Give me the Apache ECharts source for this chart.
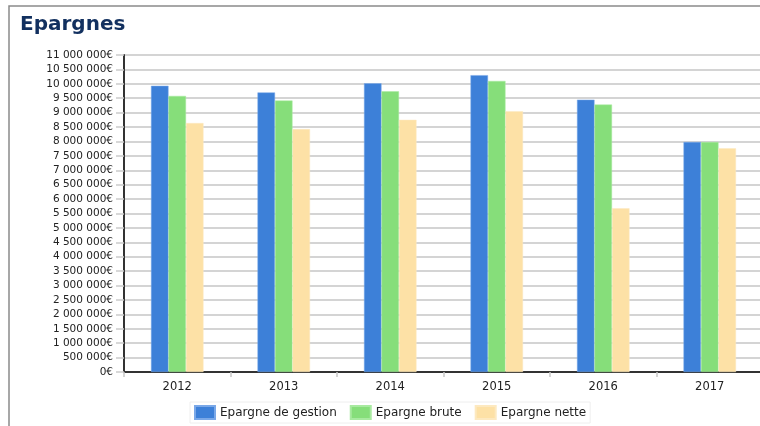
<!DOCTYPE html>
<html>
<head>
<meta charset="utf-8">
<script src="https://cdn.jsdelivr.net/npm/echarts@6/dist/echarts.min.js"></script>
<style>
html,body{margin:0;padding:0;background:#fff;}
#chart{width:760px;height:426px;}
</style>
</head>
<body>
<div id="chart"></div>
<script>
var categories = ['2012', '2013', '2014', '2015', '2016', '2017'];
var seriesNames = ['Epargne de gestion', 'Epargne brute', 'Epargne nette'];
var epargneGestion = [9930000, 9700000, 10020000, 10300000, 9450000, 7980000];
var epargneBrute = [9580000, 9420000, 9740000, 10100000, 9280000, 7980000];
var epargneNette = [8640000, 8430000, 8750000, 9050000, 5680000, 7760000];
var yMin = 0, yMax = 11000000, yStep = 500000;

function fmt(v) {
  var s = String(Math.round(v));
  return s.replace(/\B(?=(\d{3})+(?!\d))/g, ' ') + '€';
}

var chart = echarts.init(document.getElementById('chart'), null, {renderer: 'canvas'});
var font = 'DejaVu Sans';
chart.setOption({
  animation: false,
  backgroundColor: '#fff',
  textStyle: {fontFamily: font},
  graphic: [{
    type: 'polyline',
    shape: {points: [[9, 430], [9, 6], [770, 6]]},
    style: {stroke: '#8a8a8a', lineWidth: 1.5, fill: null},
    silent: true
  }],
  title: {
    text: 'Epargnes',
    left: 20,
    top: 15,
    padding: 0,
    textStyle: {fontFamily: font, fontSize: 20, fontWeight: 'bold', color: '#12305f'}
  },
  legend: {
    data: seriesNames,
    left: 190,
    top: 402,
    padding: [3, 4],
    itemWidth: 20,
    itemHeight: 13,
    itemGap: 13,
    borderColor: '#eeeeee',
    borderWidth: 1,
    icon: 'rect',
    textStyle: {fontFamily: font, fontSize: 12, color: '#222'}
  },
  grid: {left: 124, right: -3, top: 55, bottom: 54, outerBoundsMode: 'none', containLabel: false},
  xAxis: {
    type: 'category',
    data: categories,
    axisLine: {lineStyle: {color: '#333', width: 2}},
    axisTick: {show: true, length: 5, lineStyle: {color: '#c8c8c8', width: 1.5}},
    axisLabel: {margin: 9, fontFamily: font, fontSize: 11.5, color: '#222'}
  },
  yAxis: {
    type: 'value',
    min: yMin,
    max: yMax,
    interval: yStep,
    axisLine: {show: true, lineStyle: {color: '#333', width: 2}},
    axisTick: {show: true, length: 8, lineStyle: {color: '#cccccc', width: 1.5}},
    splitLine: {show: true, lineStyle: {color: '#d4d4d4', width: 1.8}},
    axisLabel: {margin: 11, fontFamily: font, fontSize: 10.5, color: '#222', formatter: fmt}
  },
  series: [
    {name: seriesNames[0], type: 'bar', data: epargneGestion, barWidth: 17.5, barGap: '0%',
     itemStyle: {color: '#3d80d8', borderColor: '#7aa8e8', borderWidth: 0.5}},
    {name: seriesNames[1], type: 'bar', data: epargneBrute, barWidth: 17.5, barGap: '0%',
     itemStyle: {color: '#86de7a', borderColor: '#a8eaa0', borderWidth: 0.5}},
    {name: seriesNames[2], type: 'bar', data: epargneNette, barWidth: 17.5, barGap: '0%',
     itemStyle: {color: '#fde1a6', borderColor: '#fde9c0', borderWidth: 0.5}}
  ]
});
</script>
</body>
</html>
